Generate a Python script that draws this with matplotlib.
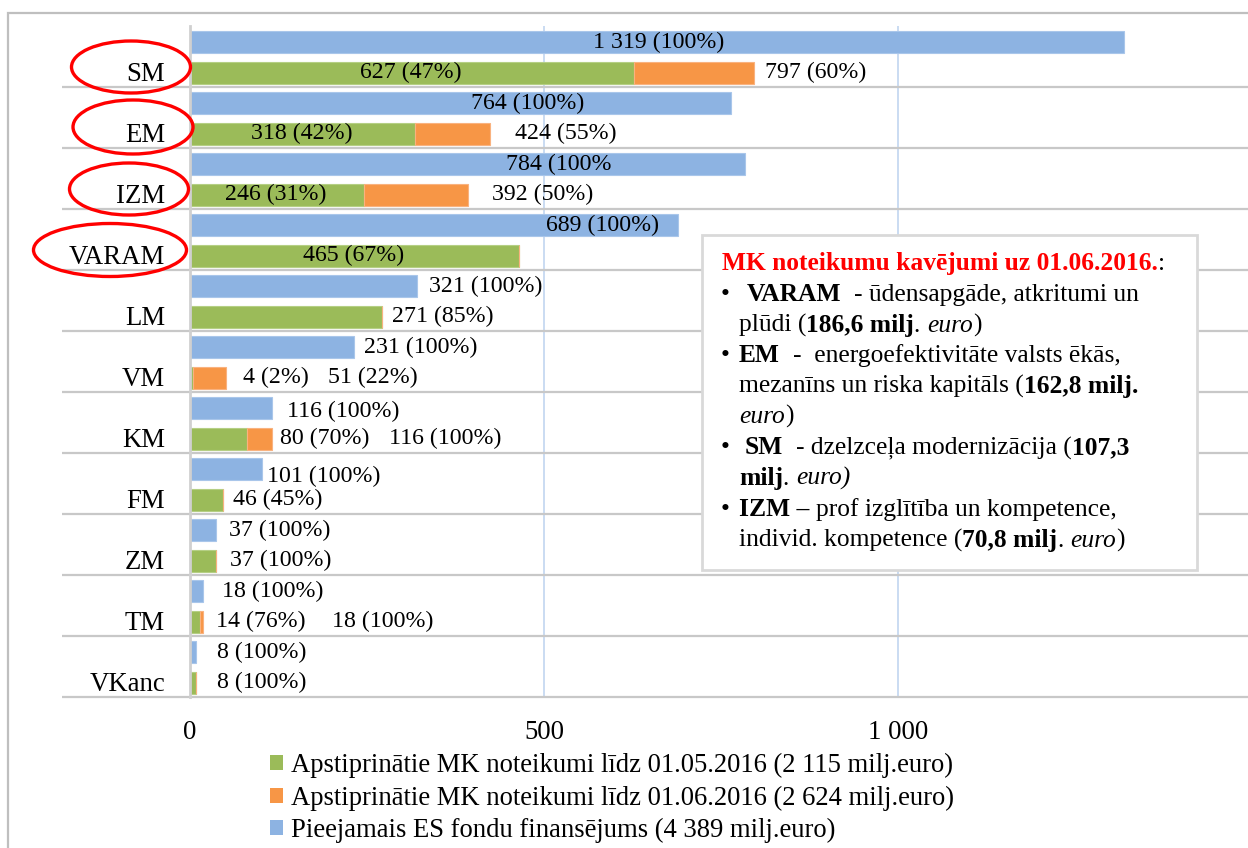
import matplotlib
matplotlib.use('Agg')
import matplotlib.pyplot as plt
from matplotlib.patches import Ellipse, Rectangle, Patch

plt.rcParams['font.family'] = ['Liberation Serif', 'DejaVu Serif']

# ---------------- data ----------------
categories = ['SM', 'EM', 'IZM', 'VARAM', 'LM', 'VM', 'KM', 'FM', 'ZM', 'TM', 'VKanc']
available = [1319, 764, 784, 689, 321, 231, 116, 101, 37, 18, 8]
approved_may = [627, 318, 246, 465, 271, 4, 80, 46, 37, 14, 8]
approved_june_total = [797, 424, 392, 465, 271, 51, 116, 46, 37, 18, 8]

blue_labels = ['1 319 (100%)', '764 (100%)', '784 (100%', '689 (100%)', '321 (100%)',
               '231 (100%)', '116 (100%)', '101 (100%)', '37 (100%)', '18 (100%)', '8 (100%)']
green_labels = ['627 (47%)', '318 (42%)', '246 (31%)', '465 (67%)', '271 (85%)', '4 (2%)',
                '80 (70%)', '46 (45%)', '37 (100%)', '14 (76%)', '8 (100%)']
orange_labels = ['797 (60%)', '424 (55%)', '392 (50%)', '', '', '51 (22%)', '116 (100%)',
                 '', '', '18 (100%)', '']

legend_labels = ['Apstiprinātie MK noteikumi līdz 01.05.2016 (2 115 milj.euro)',
                 'Apstiprinātie MK noteikumi līdz 01.06.2016 (2 624 milj.euro)',
                 'Pieejamais ES fondu finansējums (4 389 milj.euro)']
xticks = [0, 500, 1000]
xtick_labels = ['0', '500', '1 000']

# label left-edge positions (data units) - placement only
blue_label_x = [569, 397, 446, 503, 338, 246, 137, 109, 55, 45, 38]
green_label_x = [240, 86, 49, 160, 285, 75, 127, 61, 56, 37, 38]
orange_label_x = [812, 459, 427, 0, 0, 195, 281, 0, 0, 201, 0]
blue_label_dy = [0, 0, 0, 0, 0, 0, 0.05, 0.12, 0, 0, 0]

# ---------------- styles ----------------
W, H = 1248, 848
BLUE = '#8db3e2'
GREEN = '#9bbb59'
ORANGE = '#f79646'
FS = 17.2      # data labels
CFS = 19.3     # category / tick labels
LFS = 19.2     # legend
TFS = 18.4     # text box


def fx(px):
    return px / W


def fy(py):
    return 1 - py / H


fig = plt.figure(figsize=(W / 100, H / 100), dpi=100)
fig.patch.set_facecolor('white')

ax_left, ax_top, ax_bottom = 190, 26, 697
ax = fig.add_axes([fx(ax_left), fy(ax_bottom), (W - ax_left) / W, (ax_bottom - ax_top) / H])
ax.set_xlim(0, (W - ax_left) / 0.708)
n = len(categories)
ax.set_ylim(n, 0)

y_blue = [i + 0.265 for i in range(n)]
y_green = [i + 0.765 for i in range(n)]
bh = 0.36
orange_part = [t - m for t, m in zip(approved_june_total, approved_may)]

ax.barh(y_blue, available, height=bh, color=BLUE, edgecolor='#a9c6ea', linewidth=0.8, zorder=3)
ax.barh(y_green, approved_may, height=bh, color=GREEN, edgecolor='#b5cf84', linewidth=0.8, zorder=3)
ax.barh(y_green, orange_part, left=approved_may, height=bh, color=ORANGE,
        edgecolor='#f9b27f', linewidth=0.8, zorder=3)

# data labels
for i in range(n):
    ax.text(blue_label_x[i], y_blue[i] + blue_label_dy[i], blue_labels[i], ha='left', va='center',
            fontsize=FS, zorder=4)
    ax.text(green_label_x[i], y_green[i], green_labels[i], ha='left', va='center',
            fontsize=FS, zorder=4)
    if orange_labels[i]:
        ax.text(orange_label_x[i], y_green[i], orange_labels[i], ha='left', va='center',
                fontsize=FS, zorder=4)

# axes styling
for s in ['top', 'right', 'bottom']:
    ax.spines[s].set_visible(False)
ax.spines['left'].set_color('#d0d0d0')
ax.spines['left'].set_linewidth(2)
ax.spines['left'].set_zorder(5)

ax.set_xticks(xticks)
ax.set_xticklabels(xtick_labels, fontsize=CFS)
ax.tick_params(axis='x', length=0, pad=16.5)
ax.set_yticks([i + 0.745 for i in range(n)])
ax.set_yticklabels(categories, fontsize=CFS)
ax.tick_params(axis='y', length=0, pad=18)
ax.xaxis.grid(True, color='#c6d9f1', linewidth=1.3, zorder=0)
ax.set_axisbelow(True)

# category separators (extend left like tick marks)
ax.hlines([i for i in range(1, n + 1)], -128 / (W - ax_left), 1, transform=ax.get_yaxis_transform(),
          colors='#c8c8c8', linewidth=1.6, clip_on=False, zorder=2)

# outer border
fig.add_artist(Rectangle((fx(8), -0.1), 1.2, fy(13) + 0.1, fill=False, ec='#bfbfbf', lw=1.6,
                         transform=fig.transFigure, zorder=0))

# red ellipses around selected labels
for cx, cy, ew, eh in [(131, 67, 119, 52), (133, 127, 120, 54), (129, 189, 119, 52), (110, 250, 153, 53)]:
    fig.add_artist(Ellipse((fx(cx), fy(cy)), ew / W, eh / H, fill=False, ec='#ff0000', lw=2.4,
                           transform=fig.transFigure, zorder=10))

# legend
handles = [Patch(facecolor=GREEN), Patch(facecolor=ORANGE), Patch(facecolor=BLUE)]
fig.legend(handles, legend_labels, loc='upper left', bbox_to_anchor=(fx(270), fy(753)),
           frameon=False, fontsize=LFS, handlelength=0.5, handleheight=0.5, handletextpad=0.28,
           labelspacing=0.28, borderpad=0, borderaxespad=0)

# annotation text box
fig.add_artist(Rectangle((fx(702), fy(570)), (1197 - 702) / W, (570 - 235) / H, fc='white',
                         ec='#d9d9d9', lw=2, transform=fig.transFigure, zorder=20))

renderer = fig.canvas.get_renderer()


def props(style):
    kw = dict(fontsize=TFS, color='black')
    if 'b' in style:
        kw['fontweight'] = 'bold'
    if 'i' in style:
        kw['fontstyle'] = 'italic'
    if 'r' in style:
        kw['color'] = '#ff0000'
    return kw


def width_px(s, kw):
    t = fig.text(0, 0, s, **kw)
    w = t.get_window_extent(renderer).width
    t.remove()
    return w


def adv(s, kw):
    return width_px(s + '|', kw) - width_px('|', kw)


def draw_runs(x, y, runs):
    for s, style in runs:
        kw = props(style)
        lead = len(s) - len(s.lstrip(' '))
        if lead:
            x += adv(' ' * lead, kw)
        s2 = s.lstrip(' ')
        fig.text(fx(x), fy(y), s2, ha='left', va='baseline', zorder=21, **kw)
        x += adv(s2, kw)


lines = [
    (722, 270, None, [('MK noteikumu kavējumi uz 01.06.2016.', 'br'), (':', '')]),
    (747, 301, True, [('VARAM', 'b'), ('  - ūdensapgāde, atkritumi un', '')]),
    (739, 332, None, [('plūdi (', ''), ('186,6 milj', 'b'), ('. ', ''), ('euro', 'i'), (')', '')]),
    (739, 362, True, [('EM', 'b'), ('  -  energoefektivitāte valsts ēkās,', '')]),
    (739, 393, None, [('mezanīns un riska kapitāls (', ''), ('162,8 milj.', 'b')]),
    (739, 423, None, [('euro', 'i'), (')', '')]),
    (745, 454, True, [('SM', 'b'), ('  - dzelzceļa modernizācija (', ''), ('107,3', 'b')]),
    (739, 485, None, [('milj', 'b'), ('. ', ''), ('euro)', 'i')]),
    (739, 516, True, [('IZM –', 'b'), (' prof izglītība un kompetence,', '')]),
    (739, 547, None, [('individ. kompetence (', ''), ('70,8 milj', 'b'), ('. ', ''), ('euro', 'i'), (')', '')]),
]
for x0, y0, bullet, runs in lines:
    if bullet:
        fig.text(fx(721), fy(y0), '•', ha='left', va='baseline', fontsize=TFS, zorder=21)
    draw_runs(x0, y0, runs)

fig.savefig('out.png', dpi=100, facecolor='white')
